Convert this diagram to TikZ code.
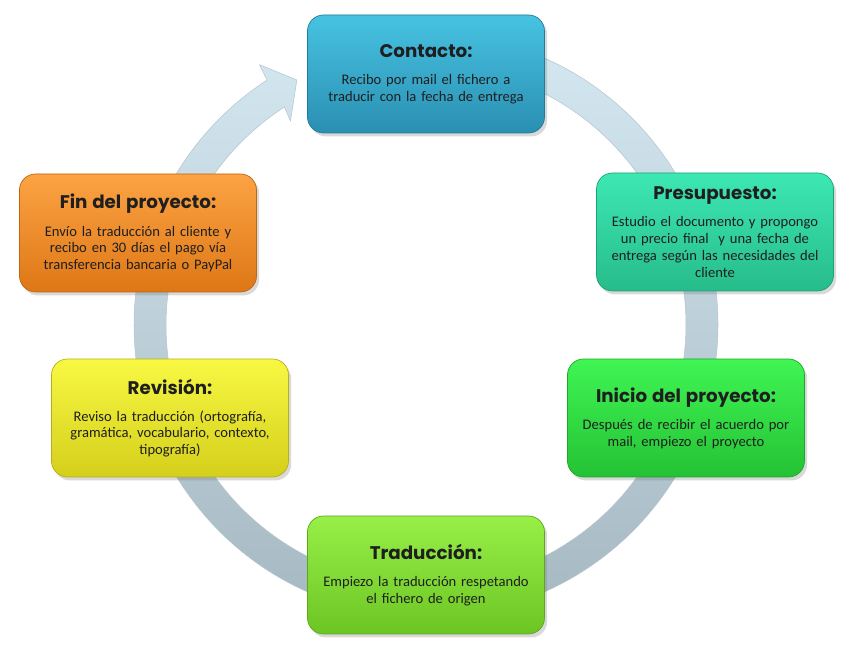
\documentclass[tikz,border=0pt]{standalone}
\usepackage{fontspec}
\setmainfont{Carlito}
\newfontfamily\titulo{Poppins}
\usetikzlibrary{shadows}

\definecolor{contactoA}{HTML}{47C3E2}
\definecolor{contactoB}{HTML}{2A8FB2}
\definecolor{presupA}{HTML}{3DE8B3}
\definecolor{presupB}{HTML}{26BC8A}
\definecolor{inicioA}{HTML}{40F554}
\definecolor{inicioB}{HTML}{24C234}
\definecolor{tradA}{HTML}{97EF47}
\definecolor{tradB}{HTML}{6CC523}
\definecolor{revA}{HTML}{F8F843}
\definecolor{revB}{HTML}{D4CF1B}
\definecolor{finA}{HTML}{FCA343}
\definecolor{finB}{HTML}{DE7716}
\definecolor{anilloA}{HTML}{D4E8F2}
\definecolor{anilloB}{HTML}{A4B6C0}

\newcommand{\titular}[1]{{\titulo\bfseries\fontsize{10.4}{12.5}\selectfont #1}\\[6pt]}

\begin{document}
\begin{tikzpicture}[x=0.02cm,y=0.02cm]
\tikzstyle{etapa} = [rectangle, rounded corners=0.32cm, minimum width=4.74cm,
minimum height=2.36cm, text width=4.5cm, align=center, inner sep=0pt,
font=\fontsize{8.3}{9.5}\selectfont, text=black!88, line width=0.4pt,
drop shadow={shadow xshift=1.5pt, shadow yshift=-2pt, opacity=0.3}]
\tikzstyle{anillo} = [top color=anilloA, bottom color=anilloB, draw=anilloB!80!white, line width=0.3pt]

\useasboundingbox (0,0) rectangle (855,651);

% flecha circular
\coordinate (centro) at (426,326);
\path[anillo, shift={(centro)}] (80:5.84cm) arc[start angle=80, end angle=-237, radius=5.84cm]
  -- (122.6:6.18cm) -- (117.8:5.54cm) -- (123.6:4.9cm) -- (123:5.2cm)
  arc[start angle=-237, end angle=80, radius=5.2cm] -- cycle;

% etapas
\node[etapa, top color=contactoA, bottom color=contactoB, draw=contactoB!85!black] (contacto) at (426,577)
{\titular{Contacto:}Recibo por mail el fichero a\\ traducir con la fecha de entrega};
\node[etapa, top color=presupA, bottom color=presupB, draw=presupB!85!black] (presupuesto) at (715,419)
{\titular{Presupuesto:}Estudio el documento y propongo\\ un precio final \ y una fecha de\\ entrega según las necesidades del\\ cliente};
\node[etapa, top color=inicioA, bottom color=inicioB, draw=inicioB!85!black] (inicio) at (686,233)
{\titular{Inicio del proyecto:}Después de recibir el acuerdo por\\ mail, empiezo el proyecto};
\node[etapa, top color=tradA, bottom color=tradB, draw=tradB!85!black] (traduccion) at (426,76)
{\titular{Traducción:}Empiezo la traducción respetando\\ el fichero de origen};
\node[etapa, top color=revA, bottom color=revB, draw=revB!85!black] (revision) at (170,233)
{\titular{Revisión:}Reviso la traducción (ortografía,\\ gramática, vocabulario, contexto,\\ tipografía)};
\node[etapa, top color=finA, bottom color=finB, draw=finB!85!black] (fin) at (138,418)
{\titular{Fin del proyecto:}Envío la traducción al cliente y\\ recibo en 30 días el pago vía\\ transferencia bancaria o PayPal};
\end{tikzpicture}
\end{document}
